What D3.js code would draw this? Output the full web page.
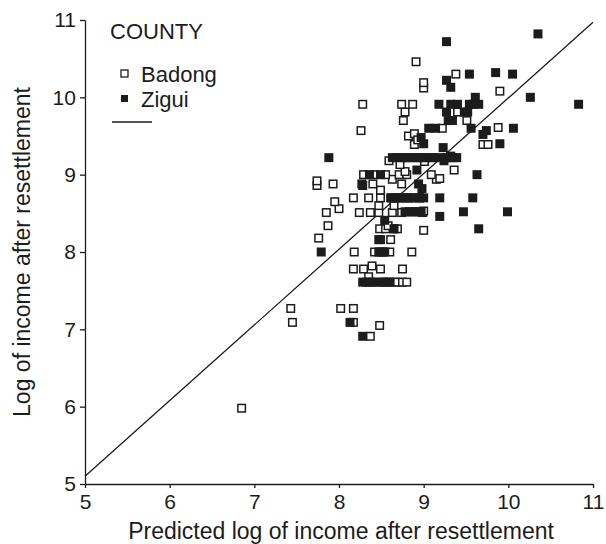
<!DOCTYPE html>
<html>
<head>
<meta charset="utf-8">
<script src="https://cdn.jsdelivr.net/npm/d3@7"></script>
<style>
  html, body { margin: 0; padding: 0; background: #fff; }
  svg { display: block; font-family: "Liberation Sans", Arial, Helvetica, sans-serif; }
</style>
</head>
<body>
<svg id="chart" width="606" height="544"></svg>
<script>
// ---- data ----
const xTicks = [5, 6, 7, 8, 9, 10, 11];
const yTicks = [5, 6, 7, 8, 9, 10, 11];
const xTitle = "Predicted log of income after resettlement";
const yTitle = "Log of income after resettlement";
const legendTitle = "COUNTY";
const seriesNames = ["Badong", "Zigui"];

const badongX = [6.85, 7.43, 7.45, 8.02, 8.17, 8.17, 8.48, 8.37,
  8.17, 8.29, 8.49, 8.75, 8.39, 8.35,
  8.51, 8.57, 8.65, 8.69, 8.75, 8.80,
  8.18, 8.42, 8.51, 8.60, 8.86,
  7.76, 8.61,
  8.48, 8.55, 8.65, 8.69, 9.00,
  7.87, 8.58,
  7.85, 8.24, 8.37, 8.47, 8.63, 8.74, 8.99, 9.00,
  8.00, 7.95, 8.47, 8.65,
  8.17, 8.35, 8.49, 8.61, 8.72, 8.82, 8.95,
  8.49,
  7.74, 7.74, 7.93, 8.27, 8.40, 8.74,
  8.63, 9.15, 9.19,
  8.29, 8.42, 8.55, 8.71, 8.80, 9.09,
  9.36, 8.78,
  8.72, 9.01, 8.59,
  8.89, 9.70, 9.76,
  8.82, 8.89, 8.93,
  8.26, 9.22, 9.88,
  8.76, 9.51,
  8.78, 9.40,
  8.28, 8.74, 8.87,
  9.90, 9.00, 9.00, 9.38, 8.91];
const badongY = [5.98, 7.27, 7.09, 7.27, 7.27, 7.09, 7.05, 6.91,
  7.78, 7.78, 7.78, 7.78, 7.82, 7.68,
  7.61, 7.61, 7.61, 7.61, 7.61, 7.61,
  8.00, 8.00, 8.00, 8.00, 8.00,
  8.18, 8.16,
  8.30, 8.30, 8.30, 8.30, 8.28,
  8.34, 8.34,
  8.51, 8.51, 8.51, 8.51, 8.51, 8.51, 8.51, 8.53,
  8.56, 8.65, 8.60, 8.60,
  8.70, 8.70, 8.70, 8.70, 8.70, 8.70, 8.70,
  8.80,
  8.86, 8.92, 8.88, 8.88, 8.88, 8.88,
  8.94, 8.94, 8.95,
  9.00, 9.00, 9.00, 9.00, 9.00, 9.00,
  9.06, 9.04,
  9.13, 9.17, 9.18,
  9.39, 9.39, 9.39,
  9.50, 9.53, 9.45,
  9.57, 9.60, 9.61,
  9.70, 9.70,
  9.81, 9.81,
  9.91, 9.91, 9.91,
  10.08, 10.12, 10.19, 10.30, 10.46];

const ziguiX = [10.35, 9.27, 9.54, 9.85, 10.05, 9.27, 9.32,
  9.61, 10.26,
  9.18, 9.32, 9.40, 9.54, 9.59, 9.65, 10.83,
  9.27, 9.48, 9.52,
  9.29, 9.34,
  9.06, 9.14, 9.56, 10.06,
  9.74, 9.70, 8.97, 9.00, 9.90, 9.23,
  7.88, 8.63, 8.68, 8.73, 8.78, 8.83, 8.88, 8.93, 8.98, 9.02, 9.09, 9.12, 9.20, 9.26, 9.30, 9.35, 9.39, 9.24, 9.32,
  8.92, 8.36, 8.49, 9.63,
  8.94, 8.28, 8.98,
  8.62, 8.66, 8.70, 8.75, 8.80, 8.85, 8.90, 8.95, 9.00, 9.19, 9.58,
  8.78, 8.82, 8.86, 8.90, 8.94, 8.97, 9.47, 9.99,
  9.19, 8.54, 8.65, 9.65,
  8.47, 8.49,
  7.79, 8.47, 8.50, 8.54,
  8.28, 8.32, 8.36, 8.40, 8.46, 8.55, 8.60,
  8.13, 8.28];
const ziguiY = [10.82, 10.72, 10.30, 10.32, 10.30, 10.22, 10.13,
  10.00, 10.00,
  9.91, 9.91, 9.91, 9.91, 9.91, 9.91, 9.91,
  9.81, 9.81, 9.81,
  9.70, 9.70,
  9.60, 9.60, 9.60, 9.60,
  9.57, 9.52, 9.48, 9.40, 9.40, 9.35,
  9.22, 9.22, 9.22, 9.22, 9.22, 9.22, 9.22, 9.22, 9.22, 9.22, 9.22, 9.22, 9.22, 9.22, 9.22, 9.22, 9.22, 9.18, 9.24,
  9.06, 9.00, 9.00, 9.00,
  8.88, 8.86, 8.82,
  8.70, 8.70, 8.70, 8.70, 8.70, 8.70, 8.70, 8.70, 8.70, 8.70, 8.70,
  8.52, 8.52, 8.52, 8.52, 8.52, 8.52, 8.52, 8.52,
  8.46, 8.41, 8.30, 8.30,
  8.16, 8.16,
  8.00, 8.00, 8.00, 8.00,
  7.61, 7.61, 7.61, 7.61, 7.61, 7.61, 7.61,
  7.09, 6.91];

const fitX = [5, 11];
const fitY = [5.1, 10.97];

// ---- chart ----
const svg = d3.select("#chart");
const ink = "#1c1c1c";
const font = "'Liberation Sans', Arial, sans-serif";
const x = d3.scaleLinear().domain([5, 11]).range([85, 593]);
const y = d3.scaleLinear().domain([5, 11]).range([484, 20]);

const xAxis = svg.append("g").attr("transform", `translate(0,${y(5)})`)
  .call(d3.axisBottom(x).tickValues(xTicks).tickFormat(d3.format("d")).tickSize(4).tickSizeOuter(0));
const yAxis = svg.append("g").attr("transform", `translate(${x(5)},0)`)
  .call(d3.axisLeft(y).tickValues(yTicks).tickFormat(d3.format("d")).tickSize(5).tickSizeOuter(0));
[xAxis, yAxis].forEach(g => {
  g.selectAll("path, line").attr("stroke", ink).attr("stroke-width", 1.3);
  g.selectAll("text").attr("fill", ink).style("font-size", "21px").style("font-family", font);
});
xAxis.selectAll("text").attr("dy", "0.85em");
yAxis.selectAll("text").attr("dx", "-0.05em");

// fit line
svg.append("line")
  .attr("x1", x(fitX[0])).attr("y1", y(fitY[0]))
  .attr("x2", x(fitX[1])).attr("y2", y(fitY[1]))
  .attr("stroke", ink).attr("stroke-width", 1.3);

const s = 7.5;
const badong = badongX.map((v, i) => ({x: v, y: badongY[i]}));
const zigui = ziguiX.map((v, i) => ({x: v, y: ziguiY[i]}));

svg.append("g").selectAll("rect").data(badong).join("rect")
  .attr("x", d => x(d.x) - s / 2).attr("y", d => y(d.y) - s / 2)
  .attr("width", s).attr("height", s)
  .attr("fill", "#fff").attr("stroke", ink).attr("stroke-width", 1.5);
svg.append("g").selectAll("rect").data(zigui).join("rect")
  .attr("x", d => x(d.x) - s / 2 - 0.75).attr("y", d => y(d.y) - s / 2 - 0.75)
  .attr("width", s + 1.5).attr("height", s + 1.5)
  .attr("fill", ink);

// axis titles
svg.append("text").attr("x", 341).attr("y", 539).attr("text-anchor", "middle")
  .attr("fill", ink).style("font-size", "23px").style("font-family", font).text(xTitle);
svg.append("text").attr("transform", `translate(30,${y(8)}) rotate(-90)`)
  .attr("text-anchor", "middle").attr("fill", ink).style("font-size", "23px").style("font-family", font).text(yTitle);

// legend
const lg = svg.append("g").style("font-family", font).style("font-size", "22px");
lg.append("text").attr("x", 110).attr("y", 39).attr("fill", ink).text(legendTitle);
lg.append("rect").attr("x", 121).attr("y", 70).attr("width", 7).attr("height", 7)
  .attr("fill", "#fff").attr("stroke", ink).attr("stroke-width", 1.3);
lg.append("text").attr("x", 141).attr("y", 82).attr("fill", ink).text(seriesNames[0]);
lg.append("rect").attr("x", 121).attr("y", 95).attr("width", 7).attr("height", 7).attr("fill", ink);
lg.append("text").attr("x", 141).attr("y", 107).attr("fill", ink).text(seriesNames[1]);
lg.append("line").attr("x1", 112).attr("x2", 152).attr("y1", 122).attr("y2", 122)
  .attr("stroke", ink).attr("stroke-width", 1.3);
</script>
</body>
</html>
